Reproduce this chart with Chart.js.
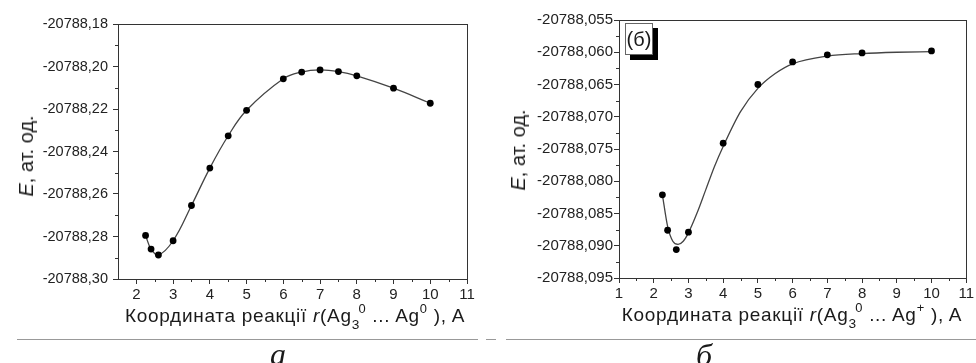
<!DOCTYPE html>
<html>
<head>
<meta charset="utf-8">
<script src="https://cdn.jsdelivr.net/npm/chart.js@4.4.1/dist/chart.umd.min.js"></script>
<style>
html,body{margin:0;padding:0;background:#fff;}
body{width:976px;height:363px;position:relative;overflow:hidden;font-family:'Liberation Sans',Arial,sans-serif;color:#1a1a1a;}
.panel{position:absolute;top:0;width:488px;height:340px;}
.xt{position:absolute;white-space:nowrap;font-size:19px;line-height:20px;letter-spacing:0.7px;transform:translateX(-50%);}
.yt{position:absolute;white-space:nowrap;font-size:20px;line-height:20px;transform:translate(-50%,-50%) rotate(-90deg);}
.sb{font-size:0.72em;position:relative;top:0.5em;}
.sp{font-size:0.68em;position:relative;top:-0.72em;}
.hr{position:absolute;height:1px;background:#999;top:339px;}
.cap{position:absolute;font-family:'Liberation Serif','Times New Roman',serif;font-style:italic;font-size:32px;line-height:32px;transform:translateX(-50%);}
.tag{position:absolute;left:625px;top:23px;width:26px;height:30px;border:1px solid #666;background:#fff;box-shadow:5px 5px 0 #000;font-size:20px;line-height:30px;text-align:center;}
</style>
</head>
<body>
<div class="panel" style="left:0"><canvas id="ca"></canvas></div>
<div class="panel" style="left:488px"><canvas id="cb"></canvas></div>

<div class="yt" style="left:26px;top:156px"><i>E</i>, ат. од.</div>
<div class="yt" style="left:518px;top:150px"><i>E</i>, ат. од.</div>

<div class="xt" style="left:295px;top:306px">Координата реакції <i>r</i>(Ag<span class="sb">3</span><span class="sp" style="margin-left:-0.12em">0</span> ... Ag<span class="sp">0</span> ), A</div>
<div class="xt" style="left:792px;top:305px">Координата реакції <i>r</i>(Ag<span class="sb">3</span><span class="sp" style="margin-left:-0.12em">0</span> ... Ag<span class="sp">+</span> ), A</div>

<div class="tag">(б)</div>

<div class="hr" style="left:17px;width:461px"></div>
<div class="hr" style="left:486px;width:10px"></div>
<div class="hr" style="left:506px;width:470px"></div>
<div class="cap" style="left:278px;top:338px">а</div>
<div class="cap" style="left:704px;top:339px">б</div>

<script>
// ---- data: panel (а) ----
const xA = [2.25, 2.4, 2.6, 3, 3.5, 4, 4.5, 5, 6, 6.5, 7, 7.5, 8, 9, 10];
const eA = [-20788.2795, -20788.2859, -20788.2887, -20788.2820, -20788.2654, -20788.2478, -20788.2326,
            -20788.2206, -20788.2058, -20788.2026, -20788.2016, -20788.2024, -20788.2044, -20788.2102, -20788.2173];
const xTicksA = [2, 3, 4, 5, 6, 7, 8, 9, 10, 11];
const yTicksA = [-20788.30, -20788.28, -20788.26, -20788.24, -20788.22, -20788.20, -20788.18];
const xRangeA = [1.5, 11];

// ---- data: panel (б) ----
const xB = [2.25, 2.4, 2.65, 3, 4, 5, 6, 7, 8, 10];
const eB = [-20788.0821, -20788.0876, -20788.0906, -20788.0879, -20788.0741, -20788.0650,
            -20788.0615, -20788.0604, -20788.0601, -20788.0598];
// fitted curve
const fitX = [2.25, 2.4, 2.55, 2.7, 2.85, 3, 3.25, 3.5, 3.75, 4, 4.5, 5, 5.5, 6, 7, 8, 9, 10];
const fitE = [-20788.0821, -20788.0870, -20788.0893, -20788.0898, -20788.0893, -20788.0880, -20788.0849,
              -20788.0813, -20788.0777, -20788.0746, -20788.0692, -20788.0656, -20788.0633, -20788.0618,
              -20788.0606, -20788.0602, -20788.0600, -20788.0599];
const xTicksB = [1, 2, 3, 4, 5, 6, 7, 8, 9, 10, 11];
const yTicksB = [-20788.095, -20788.090, -20788.085, -20788.080, -20788.075, -20788.070, -20788.065, -20788.060, -20788.055];
const xRangeB = [1, 11];

Chart.defaults.font.family = "'Liberation Sans', Arial, sans-serif";
Chart.defaults.color = '#1e1e1e';

const mids = arr => arr.slice(1).map((v, i) => (v + arr[i]) / 2);
const pts = (xs, ys) => xs.map((x, i) => ({x: x, y: ys[i]}));

const framePlugin = {
  id: 'frame',
  afterDraw(chart, args, o) {
    const {ctx, chartArea: a} = chart;
    const xs = chart.scales.x, ys = chart.scales.y;
    ctx.save();
    ctx.strokeStyle = '#333';
    ctx.lineWidth = 1;
    ctx.strokeRect(Math.round(a.left) + 0.5, Math.round(a.top) + 0.5,
                   Math.round(a.right - a.left), Math.round(a.bottom - a.top));
    ctx.beginPath();
    o.xMinor.forEach(v => {
      const p = Math.round(xs.getPixelForValue(v)) + 0.5;
      ctx.moveTo(p, a.bottom); ctx.lineTo(p, a.bottom + 3);
    });
    o.yMinor.forEach(v => {
      const p = Math.round(ys.getPixelForValue(v)) + 0.5;
      ctx.moveTo(a.left, p); ctx.lineTo(a.left - 3, p);
    });
    ctx.stroke();
    ctx.restore();
  }
};

function axisX(range, ticks, h) {
  return {
    type: 'linear', min: range[0], max: range[1],
    afterBuildTicks: s => { s.ticks = ticks.map(v => ({value: v})); },
    afterFit: s => { s.height = h; },
    ticks: {autoSkip: false, maxRotation: 0, font: {size: 15}, color: '#222', padding: 2,
            callback: v => String(v)},
    grid: {drawOnChartArea: false, tickLength: 5, tickColor: '#333'},
    border: {color: '#333'}
  };
}
function axisY(ticks, dec, w, pad, fs) {
  return {
    type: 'linear', min: ticks[0], max: ticks[ticks.length - 1],
    afterBuildTicks: s => { s.ticks = ticks.map(v => ({value: v})); },
    afterFit: s => { s.width = w; },
    ticks: {autoSkip: false, font: {size: fs}, color: '#222', padding: pad,
            callback: v => Number(v).toFixed(dec).replace('.', ',')},
    grid: {drawOnChartArea: false, tickLength: 5, tickColor: '#333'},
    border: {color: '#333'}
  };
}

new Chart(document.getElementById('ca'), {
  type: 'line',
  data: {
    datasets: [{
      data: pts(xA, eA),
      borderColor: '#444', borderWidth: 1.3, tension: 0.4,
      pointRadius: 3.4, pointBackgroundColor: '#000', pointBorderColor: '#000', pointBorderWidth: 0
    }]
  },
  options: {
    responsive: true, maintainAspectRatio: false, animation: false, devicePixelRatio: 1,
    layout: {padding: {top: 24, right: 21, left: 0, bottom: 0}},
    plugins: {legend: {display: false}, tooltip: {enabled: false},
              frame: {xMinor: mids(xTicksA), yMinor: mids(yTicksA)}},
    scales: {x: axisX(xRangeA, xTicksA, 61), y: axisY(yTicksA, 2, 118, 5, 14.5)}
  },
  plugins: [framePlugin]
});

new Chart(document.getElementById('cb'), {
  type: 'line',
  data: {
    datasets: [{
      data: pts(xB, eB), showLine: false,
      pointRadius: 3.4, pointBackgroundColor: '#000', pointBorderColor: '#000', pointBorderWidth: 0
    }, {
      data: pts(fitX, fitE),
      borderColor: '#444', borderWidth: 1.3, cubicInterpolationMode: 'monotone', pointRadius: 0
    }]
  },
  options: {
    responsive: true, maintainAspectRatio: false, animation: false, devicePixelRatio: 1,
    layout: {padding: {top: 20, right: 8, left: 0, bottom: 0}},
    plugins: {legend: {display: false}, tooltip: {enabled: false},
              frame: {xMinor: mids(xTicksB), yMinor: mids(yTicksB)}},
    scales: {x: axisX(xRangeB, xTicksB, 62), y: axisY(yTicksB, 3, 131, 1, 15)}
  },
  plugins: [framePlugin]
});
</script>
</body>
</html>
